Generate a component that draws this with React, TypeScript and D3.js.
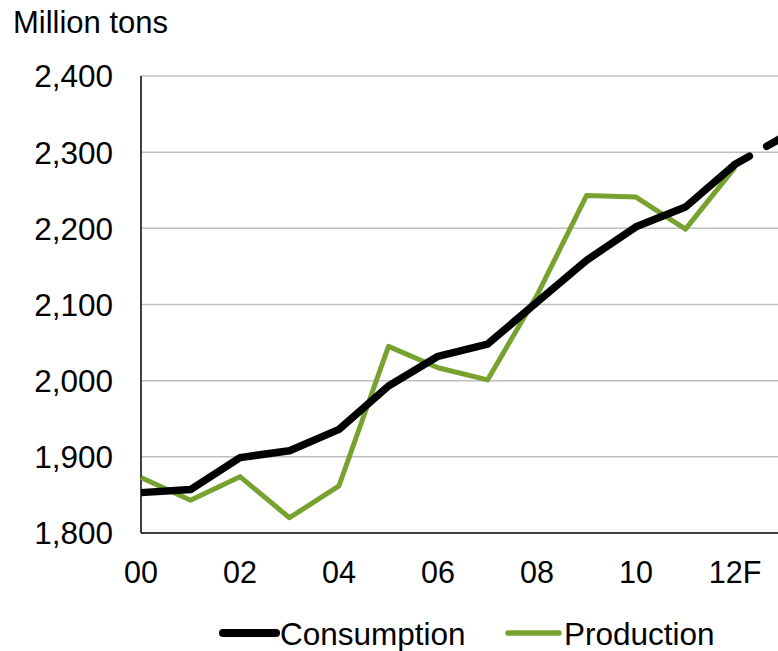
import React from "react";
import * as d3 from "d3";

const years = ["00","01","02","03","04","05","06","07","08","09","10","11","12","13"];
const consumption = [1853,1857,1899,1908,1936,1993,2032,2048,2103,2158,2202,2228,2284,2321];
const production = [1873,1843,1874,1820,1862,2045,2017,2001,2112,2243,2241,2199,2280];
const xTickLabels = ["00","02","04","06","08","10","12F"];
const yTicks = [1800,1900,2000,2100,2200,2300,2400];
const actualCount = 13; // years 00..12 solid; 12->13 forecast dashed

const W = 778, H = 651;
const FONT = "'Liberation Sans', Arial, sans-serif";
const GREEN = "#77A22F";

export default function App() {
  const x = d3.scaleLinear().domain([0, years.length - 1]).range([141, 141 + 13 * 49.5]);
  const y = d3.scaleLinear().domain([1800, 2400]).range([533, 76]);
  const line = d3.line<number>().x((_, i) => x(i)).y(d => y(d));
  const consSolid = consumption.slice(0, actualCount);
  const consDash = consumption.slice(actualCount - 1);
  const dashLine = d3.line<number>().x((_, i) => x(actualCount - 1 + i)).y(d => y(d));

  return (
    <svg width={W} height={H} style={{ position: "absolute", left: 0, top: 0 }} fontFamily={FONT}>
      <rect width={W} height={H} fill="#fff" />
      <text x={13} y={33} fontSize={31} fill="#000">Million tons</text>
      {yTicks.map(t => (
        <g key={t}>
          {t > 1800 && <line x1={x(0)} x2={W} y1={y(t)} y2={y(t)} stroke="#BFBFBF" strokeWidth={1.5} />}
          <text x={113} y={y(t)} dy="0.36em" textAnchor="end" fontSize={31.5} fill="#000">
            {d3.format(",")(t)}
          </text>
        </g>
      ))}
      <line x1={x(0)} x2={x(0)} y1={y(2400)} y2={y(1800)} stroke="#000" strokeWidth={1.5} />
      <line x1={x(0)} x2={W} y1={y(1800)} y2={y(1800)} stroke="#000" strokeWidth={1.5} />
      {xTickLabels.map((l, i) => (
        <text key={l} x={x(i * 2)} y={583} textAnchor="middle" fontSize={30.5} fill="#000">{l}</text>
      ))}
      <path d={line(production) || ""} fill="none" stroke={GREEN} strokeWidth={5} strokeLinejoin="round" />
      <path d={line(consSolid) || ""} fill="none" stroke="#000" strokeWidth={7.5} strokeLinejoin="round" />
      <path d={dashLine(consDash) || ""} fill="none" stroke="#000" strokeWidth={7.5} strokeLinecap="round" strokeDasharray="16.5 20" />
      <g>
        <line x1={223} x2={276} y1={633} y2={633} stroke="#000" strokeWidth={8} strokeLinecap="round" />
        <text x={280} y={645} fontSize={31.5} fill="#000">Consumption</text>
        <line x1={508} x2={559} y1={633} y2={633} stroke={GREEN} strokeWidth={5.5} strokeLinecap="round" />
        <text x={564} y={645} fontSize={31.5} fill="#000">Production</text>
      </g>
    </svg>
  );
}
